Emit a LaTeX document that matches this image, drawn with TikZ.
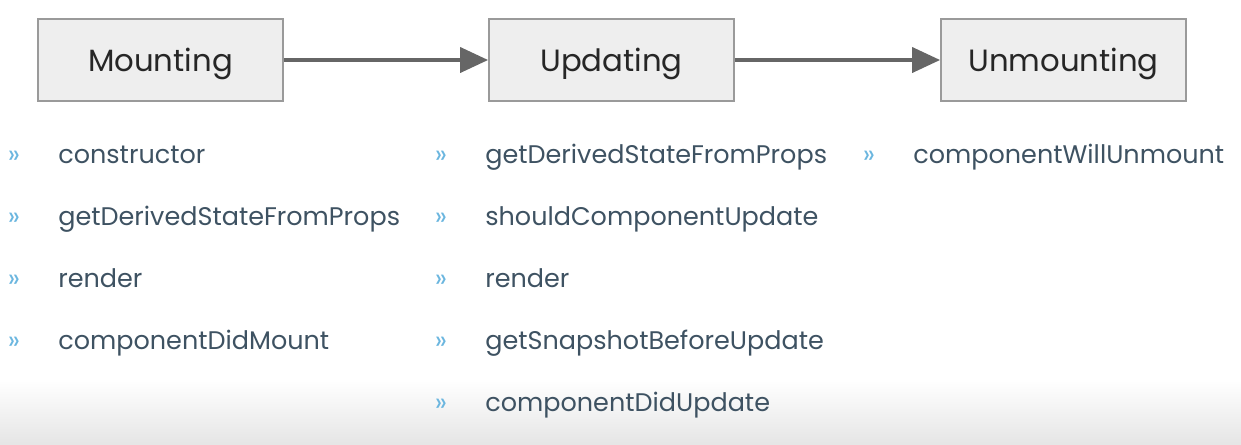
\documentclass[tikz,border=0pt]{standalone}
\usepackage{fontspec}
\setmainfont{Poppins}
\usetikzlibrary{arrows.meta}

\definecolor{boxfill}{HTML}{EEEEEE}
\definecolor{boxline}{HTML}{9A9A9A}
\definecolor{arrowgray}{HTML}{666666}
\definecolor{bulletblue}{HTML}{6BB6DF}
\definecolor{itemtext}{HTML}{3E5262}

\tikzset{
    phase/.style={rectangle, draw=boxline, fill=boxfill, line width=1pt, minimum width=4.9cm, minimum height=1.64cm, text depth=0pt, font=\fontsize{17.5}{20}\selectfont, text=black!85},
    flow/.style={-{Triangle[length=0.56cm, width=0.5cm]}, draw=arrowgray, line width=2.2pt},
    bullet/.style={anchor=base, inner sep=0pt, text=bulletblue, font=\fontsize{15}{18}\selectfont},
    item/.style={anchor=base west, inner sep=0pt, text=itemtext, font=\fontsize{14.5}{18}\selectfont}
}

\begin{document}
\begin{tikzpicture}
        \useasboundingbox (0,0) rectangle (24.82,-8.88);
        % Background fade at the bottom
        \shade[top color=white, bottom color=black!10] (0,-7.6) rectangle (24.82,-8.88);

        % Draw nodes
        \node[phase] (mount) at (3.21,-1.2) {Mounting};
        \node[phase] (update) at (12.23,-1.2) {Updating};
        \node[phase] (unmount) at (21.27,-1.2) {Unmounting};

        % Draw connections
        \draw[flow] (mount) -- (update);
        \draw[flow] (update) -- (unmount);

        % Mounting methods
        \node[bullet] (mb1) at (0.28,-3.26) {»};
        \node[bullet] (mb2) at (0.28,-4.5) {»};
        \node[bullet] (mb3) at (0.28,-5.74) {»};
        \node[bullet] (mb4) at (0.28,-6.98) {»};
        \node[item] (m1) at (1.16,-3.26) {constructor};
        \node[item] (m2) at (1.16,-4.5) {getDerivedStateFromProps};
        \node[item] (m3) at (1.16,-5.74) {render};
        \node[item] (m4) at (1.16,-6.98) {componentDidMount};

        % Updating methods
        \node[bullet] (ub1) at (8.82,-3.26) {»};
        \node[bullet] (ub2) at (8.82,-4.5) {»};
        \node[bullet] (ub3) at (8.82,-5.74) {»};
        \node[bullet] (ub4) at (8.82,-6.98) {»};
        \node[bullet] (ub5) at (8.82,-8.22) {»};
        \node[item] (u1) at (9.7,-3.26) {getDerivedStateFromProps};
        \node[item] (u2) at (9.7,-4.5) {shouldComponentUpdate};
        \node[item] (u3) at (9.7,-5.74) {render};
        \node[item] (u4) at (9.7,-6.98) {getSnapshotBeforeUpdate};
        \node[item] (u5) at (9.7,-8.22) {componentDidUpdate};

        % Unmounting methods
        \node[bullet] (xb1) at (17.38,-3.26) {»};
        \node[item] (x1) at (18.26,-3.26) {componentWillUnmount};
    \end{tikzpicture}
\end{document}
